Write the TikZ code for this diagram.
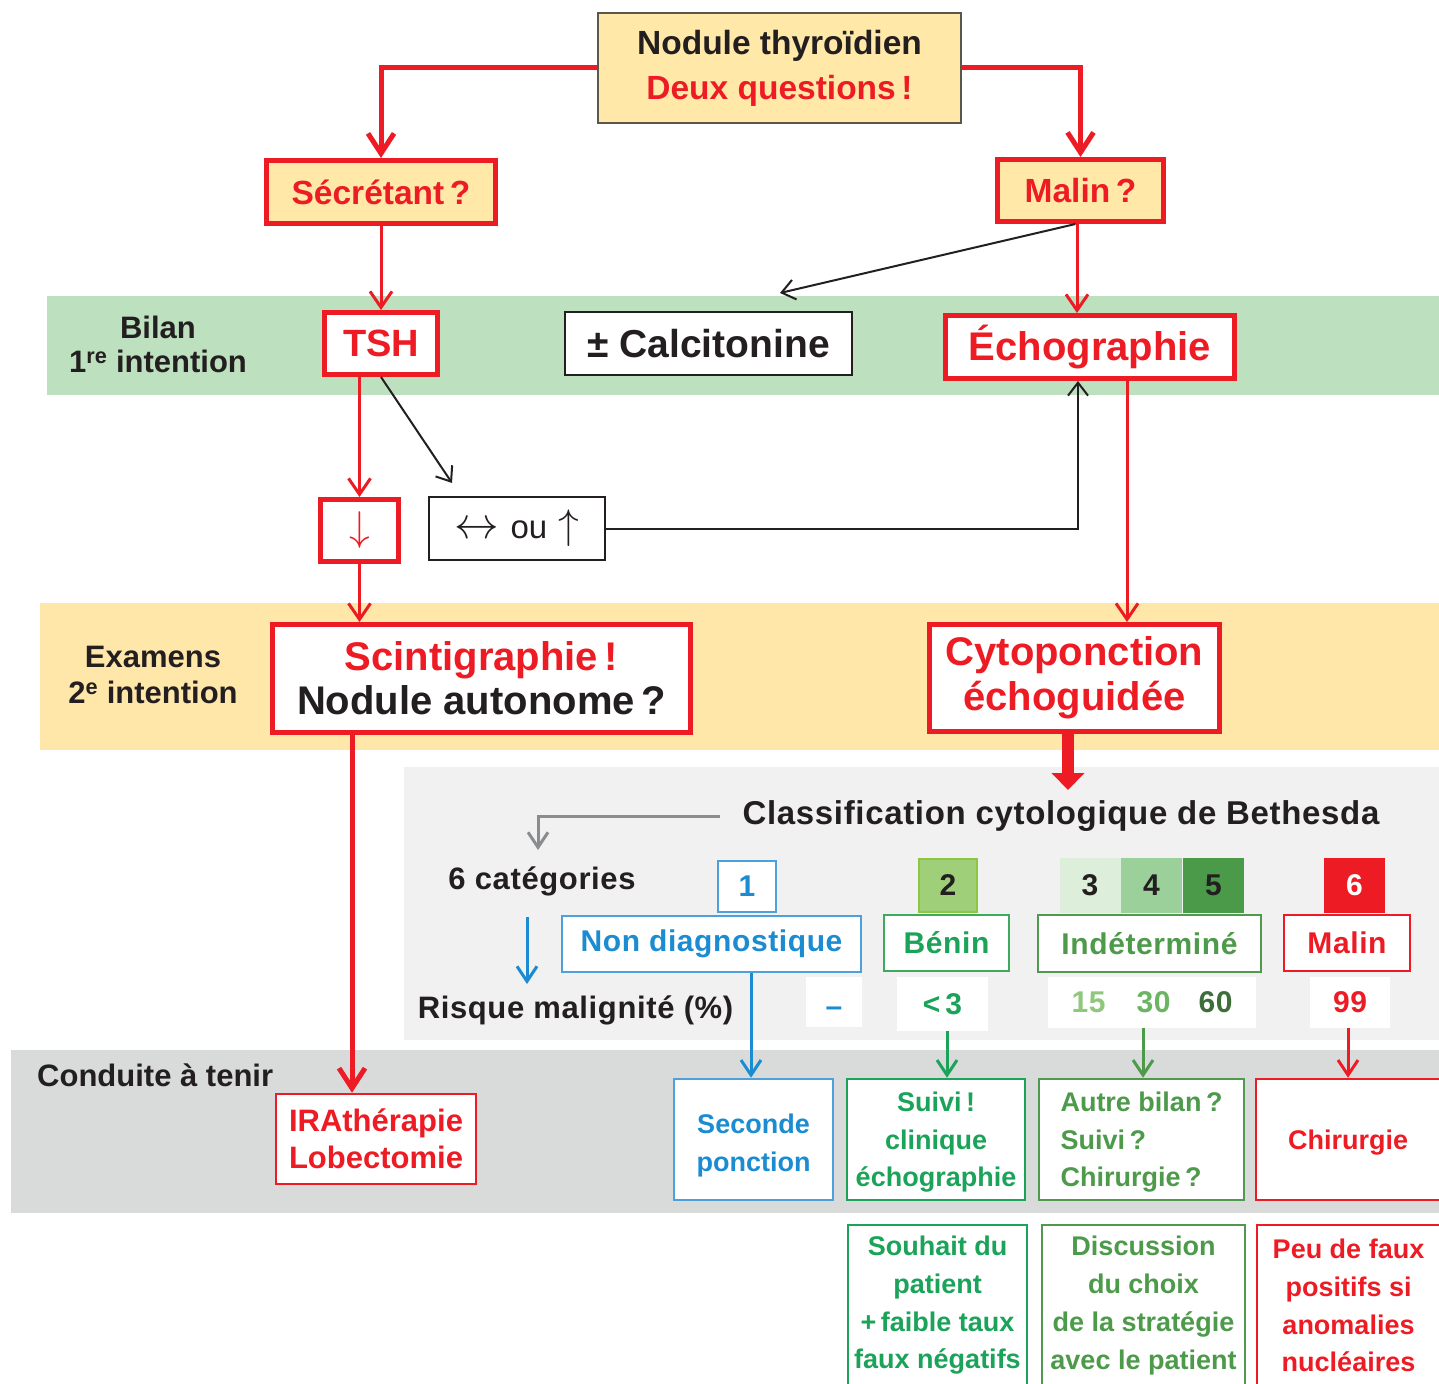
\documentclass[tikz,border=0pt]{standalone}
\usepackage{fontspec}
\setmainfont{Liberation Sans}
\newfontfamily\spaced[LetterSpace=2]{Liberation Sans}
\usetikzlibrary{arrows.meta}
\definecolor{rd}{HTML}{ED1C24}
\definecolor{yl}{HTML}{FFE8A8}
\definecolor{ylband}{HTML}{FFE7A9}
\definecolor{gband}{HTML}{BDE0BF}
\definecolor{lgray}{HTML}{F1F1F1}
\definecolor{dgray}{HTML}{D9DBDA}
\definecolor{txt}{HTML}{231F20}
\definecolor{bl}{HTML}{1C8CD2}
\definecolor{blbord}{HTML}{4DA0DB}
\definecolor{gA}{HTML}{1BA35A}
\definecolor{gAb}{HTML}{3EAA5E}
\definecolor{gB}{HTML}{4E9A4B}
\definecolor{gBb}{HTML}{509A50}
\definecolor{ctwo}{HTML}{A0CF7A}
\definecolor{ctwob}{HTML}{8DC63F}
\definecolor{cthree}{HTML}{DDEFDB}
\definecolor{cfour}{HTML}{9BD09B}
\definecolor{cfive}{HTML}{4A9A4A}
\definecolor{nfifteen}{HTML}{8FC87D}
\definecolor{nthirty}{HTML}{6AB462}
\definecolor{nsixty}{HTML}{3D6E3A}
\definecolor{grayarr}{HTML}{8A8C8E}
\definecolor{nodbord}{HTML}{5A584A}
\newcommand\fsz[2]{\fontsize{#1}{#2}\selectfont}
\newcommand\bigarr[2]{{\fontsize{20}{24}\selectfont\scalebox{#1}{$#2$}}}
\tikzset{
  every node/.style={font=\bfseries, text=txt},
  lab/.style={inner sep=0pt, align=center},
  redbox/.style={draw=rd, line width=5pt, fill=white, text=rd, inner sep=0pt, align=center},
  blackbox/.style={draw=txt, line width=2pt, fill=white, inner sep=0pt, align=center},
  thinbox/.style={line width=2.5pt, fill=white, inner sep=0pt, align=center},
  catbox/.style={inner sep=0pt, minimum width=61, minimum height=55, font=\bfseries\spaced\fsz{30}{34}},
  whitebox/.style={fill=white, inner sep=0pt, font=\bfseries\spaced\fsz{30}{34}},
  inlab/.style={inner sep=0pt, align=center, font=\bfseries\fsz{27}{37.5}},
  rthick/.style={draw=rd, line width=5pt, -{Straight Barb[length=20pt,width=26pt]}},
  rthin/.style={draw=rd, line width=3pt, -{Straight Barb[length=16pt,width=22pt]}},
  barr/.style={draw=txt, line width=2pt, -{Straight Barb[length=13pt,width=20pt]}},
  colarr/.style={line width=3pt, -{Straight Barb[length=15pt,width=20pt]}}
}
\begin{document}
\begin{tikzpicture}[x=1pt,y=-1pt]
\clip (0,0) rectangle (1439,1383);
\fill[white] (0,0) rectangle (1439,1383);
% bands
\fill[gband] (47,296) rectangle (1439,395);
\fill[ylband] (40,603) rectangle (1439,750);
\fill[lgray] (404,767) rectangle (1439,1040);
\fill[dgray] (11,1050) rectangle (1439,1213);

% top nodes
\node[draw=nodbord, line width=2pt, fill=yl, inner sep=0pt, align=center, minimum width=363, minimum height=110, font=\bfseries\fsz{33.5}{45}] (nod) at (779.5,68) {Nodule thyroïdien\\\textcolor{rd}{Deux questions\,!}};
\node[redbox, fill=yl, minimum width=229, minimum height=63, font=\bfseries\fsz{33.5}{40}] (sec) at (381,192) {Sécrétant\,?};
\node[redbox, fill=yl, minimum width=166, minimum height=62, font=\bfseries\fsz{33.5}{40}] (mal) at (1080.5,190.5) {Malin\,?};

\node[lab, font=\bfseries\fsz{31}{34}] (bil) at (158,344) {Bilan\\1\textsuperscript{re} intention};
\node[redbox, minimum width=113, minimum height=62, font=\bfseries\fsz{38}{42}] (tsh) at (381,343.5) {TSH};
\node[blackbox, minimum width=287, minimum height=63, font=\bfseries\fsz{39}{44}] (calc) at (708.5,343.5) {± Calcitonine};
\node[redbox, minimum width=289, minimum height=63, font=\bfseries\fsz{40}{44}] (echo) at (1090,347) {Échographie};

\node[redbox, minimum width=78, minimum height=62, font=\mdseries\fsz{33}{38}] (dn) at (359.5,530.5) {\bigarr{2}{\downarrow}};
\node[blackbox, minimum width=176, minimum height=63, font=\mdseries\fsz{33}{38}] (ou) at (517,528.5) {\bigarr{2.15}{\leftrightarrow}\hspace{11pt}ou\hspace{11pt}\bigarr{2}{\uparrow}};

\node[lab, font=\bfseries\fsz{31}{36}] (exam) at (153,675) {Examens\\2\textsuperscript{e} intention};
\node[redbox, minimum width=418, minimum height=108, font=\bfseries\fsz{40}{44}] (sci) at (481.5,678.5) {Scintigraphie\,!\\\textcolor{txt}{Nodule autonome\,?}};
\node[redbox, minimum width=290, minimum height=107, font=\bfseries\fsz{40}{45}] (cyto) at (1074.5,678) {Cytoponction\\échoguidée};

% Bethesda
\node[lab, font=\bfseries\spaced\fsz{33}{36}] (title) at (1061,816) {Classification cytologique de Bethesda};
\node[lab, font=\bfseries\spaced\fsz{31}{34}] (cat) at (542,881) {6 catégories};
\node[lab, font=\bfseries\spaced\fsz{31}{34}] (risk) at (575.5,1010) {Risque malignité (\%)};
\coordinate (catin) at (538,850);
\coordinate (ba1) at (527,917);
\coordinate (ba2) at (527,984);

\node[catbox, draw=blbord, line width=2pt, fill=white, minimum width=58, minimum height=51, text=bl] (b1) at (747,886.5) {1};
\node[thinbox, draw=blbord, minimum width=299, minimum height=56, text=bl, font=\bfseries\spaced\fsz{30}{34}] (nd) at (711.5,944) {Non diagnostique};
\node[whitebox, minimum width=56, minimum height=50, label={[inner sep=0pt, text=bl, font=\bfseries\fsz{30}{34}, yshift=-10pt]center:\textendash}] (dash) at (834,1002) {};

\node[catbox, fill=ctwo, draw=ctwob, line width=1.5pt, minimum width=58, minimum height=53] (b2) at (948,885.5) {2};
\node[thinbox, draw=gAb, minimum width=125, minimum height=56, text=gA, font=\bfseries\spaced\fsz{30}{34}] (ben) at (946.5,943) {Bénin};
\node[whitebox, minimum width=91, minimum height=54, text=gA] (lt) at (942.5,1004) {<\,3};

\node[catbox, fill=cthree] (b3) at (1090,885.5) {3};
\node[catbox, fill=cfour] (b4) at (1151.5,885.5) {4};
\node[catbox, fill=cfive] (b5) at (1213.5,885.5) {5};
\node[thinbox, draw=gBb, minimum width=223, minimum height=57, text=gB, font=\bfseries\spaced\fsz{30}{34}] (ind) at (1149.5,943.5) {Indéterminé};
\node[whitebox, minimum width=208, minimum height=51] (nums) at (1152,1002.5) {\textcolor{nfifteen}{15}\hspace{31pt}\textcolor{nthirty}{30}\hspace{28pt}\textcolor{nsixty}{60}};

\node[catbox, fill=rd, text=white] (b6) at (1354.5,885.5) {6};
\node[thinbox, draw=rd, minimum width=126, minimum height=56, text=rd, font=\bfseries\spaced\fsz{30}{34}] (mal2) at (1347,943) {Malin};
\node[whitebox, minimum width=80, minimum height=51, text=rd] (nn) at (1350,1002.5) {99};

% Conduite
\node[lab, anchor=west, font=\bfseries\fsz{31}{34}] (cond) at (37,1075) {Conduite à tenir};
\node[thinbox, draw=rd, minimum width=200, minimum height=90, text=rd, font=\bfseries\fsz{31}{37}] (ira) at (376,1139) {IRAthérapie\\Lobectomie};
\node[thinbox, draw=blbord, minimum width=159, minimum height=121, label={[inlab, text=bl, yshift=-6pt]center:Seconde\\ponction}] (sp) at (753.5,1139.5) {};
\node[thinbox, draw=gA, minimum width=178, minimum height=121, label={[inlab, text=gA, yshift=-3pt]center:Suivi\,!\\clinique\\échographie}] (sui) at (936,1139.5) {};
\node[thinbox, draw=gBb, minimum width=205, minimum height=121, label={[inlab, text=gB, align=left, yshift=-3pt]center:Autre bilan\,?\\Suivi\,?\\Chirurgie\,?}] (aut) at (1141.5,1139.5) {};
\node[thinbox, draw=rd, minimum width=184, minimum height=121, label={[inlab, text=rd, yshift=-3pt]center:Chirurgie}] (chi) at (1348,1139.5) {};

% bottom
\node[thinbox, draw=gA, minimum width=179, minimum height=161, text=gA, font=\bfseries\fsz{27}{37.7}] (sou) at (937.5,1305.5) {Souhait du\\patient\\+\,faible taux\\faux négatifs};
\node[thinbox, draw=gBb, minimum width=203, minimum height=161, text=gB, font=\bfseries\fsz{27}{37.7}] (dis) at (1143.5,1305.5) {Discussion\\du choix\\de la stratégie\\avec le patient};
\node[thinbox, draw=rd, minimum width=183, minimum height=161, text=rd, font=\bfseries\fsz{27}{37.7}] (peu) at (1348.5,1305.5) {Peu de faux\\positifs si\\anomalies\\nucléaires};

% connectors
\coordinate (calcin) at (780,293);
\coordinate (ouin) at (452,483);
\coordinate (ct) at (1068,790);
\draw[rthick] (nod.west) -| (sec.north);
\draw[rthick] (nod.east) -| (mal.north);
\draw[rthin] (sec.south) -- (tsh.north);
\draw[rthin] ([xshift=-3.5]mal.south) -- ([xshift=-3.5]mal.south |- echo.north);
\draw[barr] ([xshift=-5]mal.south) -- (calcin);
\draw[rthin] (tsh.south -| dn.north) -- (dn.north);
\draw[barr] (tsh.south) -- (ouin);
\draw[rthin] (dn.south) -- (dn.south |- sci.north);
\draw[barr] (ou.east) -| ([xshift=-12]echo.south);
\draw[rthin] ([xshift=37]echo.south) -- ([xshift=37]echo.south |- cyto.north);
\draw[draw=rd, line width=12pt, -{Triangle[length=17pt,width=32pt]}] ([xshift=-6.5]cyto.south) -- (ct);
\draw[rthick] ([xshift=-129.5]sci.south) -- ([xshift=-129.5]sci.south |- ira.north);
\draw[colarr, draw=grayarr] ([xshift=-22]title.west) -| (catin);
\draw[colarr, draw=bl] (ba1) -- (ba2);
\draw[colarr, draw=bl] ([xshift=39.5]nd.south) -- ([xshift=39.5]nd.south |- sp.north);
\draw[colarr, draw=gA] ([xshift=4.5]lt.south) -- ([xshift=4.5]lt.south |- sui.north);
\draw[colarr, draw=gB] ([xshift=-9]nums.south) -- ([xshift=-9]nums.south |- aut.north);
\draw[colarr, draw=rd] ([xshift=-2]nn.south) -- ([xshift=-2]nn.south |- chi.north);
\end{tikzpicture}
\end{document}
